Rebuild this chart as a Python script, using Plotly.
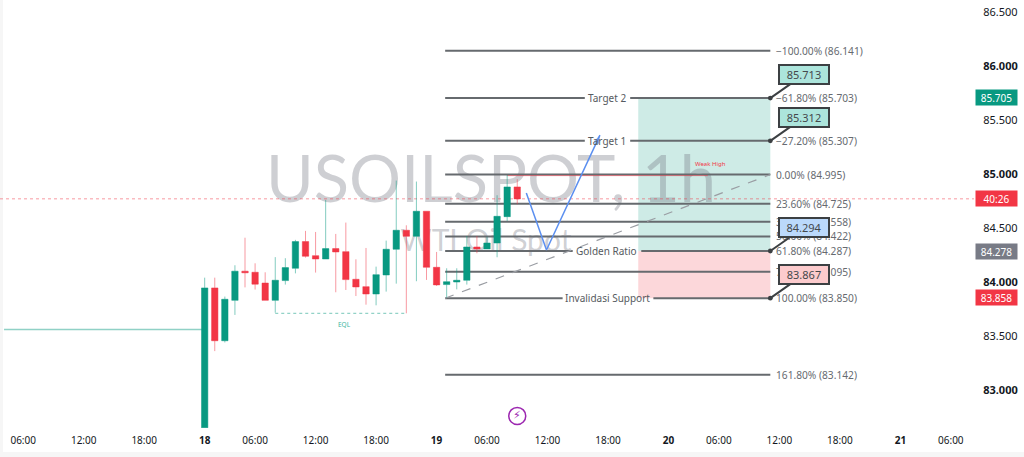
import plotly.graph_objects as go

# candles, one per hour, index 0 is the "18" session open
opens = [82.65, 83.945, 83.456, 83.83, 84.10, 84.09, 83.99, 83.83, 84.013, 84.127, 84.374, 84.244,
         84.213, 84.309, 84.281, 84.025, 83.957, 83.889, 84.065, 84.303, 84.479, 84.423, 84.655,
         84.136, 83.976, 84.0, 84.016, 84.324, 84.306, 84.361, 84.605, 84.88]
highs = [84.04, 84.04, 83.865, 84.155, 84.41, 84.173, 84.09, 84.23, 84.22, 84.39, 84.473, 84.463,
         84.76, 84.445, 84.55, 84.21, 84.315, 84.142, 84.383, 84.939, 84.525, 84.93, 84.655,
         84.278, 84.127, 84.127, 84.426, 84.426, 84.42, 84.803, 84.991, 84.951]
lows = [82.65, 83.36, 83.44, 83.695, 83.95, 83.93, 83.83, 83.716, 83.976, 84.08, 84.226, 84.087,
        84.213, 83.905, 83.926, 83.87, 83.79, 83.784, 83.911, 83.985, 83.71, 84.007, 84.019,
        83.963, 83.855, 83.932, 83.976, 84.266, 84.306, 84.229, 84.565, 84.72]
closes = [83.945, 83.456, 83.84, 84.10, 84.085, 83.98, 83.83, 84.016, 84.133, 84.374, 84.238, 84.213,
          84.309, 84.278, 84.022, 83.954, 83.889, 84.068, 84.303, 84.479, 84.423, 84.655, 84.136,
          83.973, 84.003, 84.016, 84.324, 84.306, 84.361, 84.608, 84.88, 84.769]
bar_index = list(range(len(opens)))

time_ticks = [-18, -12, -6, 0, 5, 11, 17, 23, 28, 34, 40, 46, 51, 57, 63, 69, 74]
time_labels = ["06:00", "12:00", "18:00", "<b>18</b>", "06:00", "12:00", "18:00", "<b>19</b>", "06:00",
               "12:00", "18:00", "<b>20</b>", "06:00", "12:00", "18:00", "<b>21</b>", "06:00"]
price_ticks = [86.5, 86.0, 85.5, 85.0, 84.5, 84.0, 83.5, 83.0]
price_labels = ["86.500", "<b>86.000</b>", "85.500", "<b>85.000</b>", "84.500", "<b>84.000</b>", "83.500", "<b>83.000</b>"]

# fibonacci levels
fib_levels = [86.141, 85.703, 85.307, 84.995, 84.725, 84.558, 84.422, 84.287, 84.095, 83.850, 83.142]
fib_labels = ["−100.00% (86.141)", "−61.80% (85.703)", "−27.20% (85.307)", "0.00% (84.995)", "23.60% (84.725)",
              "38.20% (84.558)", "50.00% (84.422)", "61.80% (84.287)", "78.60% (84.095)", "100.00% (83.850)",
              "161.80% (83.142)"]
fib_start, fib_end = 23.85, 56.1
zone_start = 43.0

# named levels: the text breaks its fib line
level_names = ["Target 2", "Target 1", "Golden Ratio", "Invalidasi Support"]
level_prices = [85.703, 85.307, 84.287, 83.850]
level_gap_start = [37.7, 37.7, 36.5, 35.5]
level_gap_end = [42.2, 42.2, 43.3, 44.5]

callout_texts = ["85.713", "85.312", "84.294", "83.867"]
callout_prices = [85.703, 85.307, 84.287, 83.850]
callout_colors = ["#ace5dc", "#ace5dc", "#bbd9fb", "#fccbcd"]

tag_texts = ["85.705", "40:26", "84.278", "83.858"]
tag_prices = [85.705, 84.77, 84.278, 83.858]
tag_colors = ["#089981", "#f23645", "#787b86", "#f23645"]

path_x = [31.9, 33.9, 39.2]
path_y = [84.824, 84.296, 85.36]
eql_x = [7, 20]
eql_y = [83.71, 83.71]
prev_close_x = [-19.9, 0]
prev_close_y = [83.56, 83.56]
weak_high_x = [30, 49.9]
weak_high_y = [84.985, 84.985]
trend_x = [23.85, 56.1]
trend_y = [83.850, 84.995]

x_range = [-20.3, 76.3]
y_range = [82.648, 86.611]
FONT = "Noto Sans"
GREY = "#666a6e"

fig = go.Figure()

# watermark sits on the lower subplot so candles stay on top
fig.add_trace(go.Scatter(x=[28.4], y=[84.89], mode="text", text=["USOILSPOT, 1h"], hoverinfo="skip",
                         textfont=dict(family="Lato", size=65, color="rgba(120,123,134,0.36)")))
fig.add_trace(go.Scatter(x=[27.9], y=[84.36], mode="text", text=["WTI Oil Spot"], hoverinfo="skip",
                         textfont=dict(family="Lato", size=30, color="rgba(120,123,134,0.36)")))

# price line
fig.add_trace(go.Scatter(x=x_range, y=[84.77, 84.77], mode="lines", line=dict(color="rgba(242,54,69,0.5)", width=1, dash="dot")))

for level in fib_levels:
    xs, ys = [fib_start, fib_end], [level, level]
    if level in level_prices:
        i = level_prices.index(level)
        xs = [fib_start, level_gap_start[i], None, level_gap_end[i], fib_end]
        ys = [level, level, None, level, level]
    fig.add_trace(go.Scatter(x=xs, y=ys, mode="lines", line=dict(color=GREY, width=2)))

fig.add_trace(go.Scatter(x=trend_x, y=trend_y, mode="lines", line=dict(color="#9a9da3", width=1.2, dash="dash")))
fig.add_trace(go.Scatter(x=weak_high_x, y=weak_high_y, mode="lines", line=dict(color="rgba(242,54,69,0.55)", width=1)))
fig.add_trace(go.Scatter(x=eql_x, y=eql_y, mode="lines", line=dict(color="rgba(8,153,129,0.55)", width=1, dash="dot")))
fig.add_trace(go.Scatter(x=prev_close_x, y=prev_close_y, mode="lines", line=dict(color="rgba(8,153,129,0.45)", width=1.5)))
fig.add_trace(go.Scatter(x=path_x, y=path_y, mode="lines+markers", line=dict(color="#5b8ff0", width=1.5),
                         marker=dict(symbol="arrow", size=[0, 0, 9], angleref="previous", color="#5b8ff0", line=dict(width=0))))
fig.add_trace(go.Scatter(x=[31], y=[82.76], mode="markers", hoverinfo="skip",
                         marker=dict(symbol="circle", size=17, color="white", line=dict(color="#9c27b0", width=1.5))))

fig.add_trace(go.Candlestick(
    x=bar_index, open=opens, high=highs, low=lows, close=closes, xaxis="x2", yaxis="y2", whiskerwidth=0,
    increasing=dict(line=dict(color="rgba(8,153,129,0.5)", width=1), fillcolor="#089981"),
    decreasing=dict(line=dict(color="rgba(242,54,69,0.5)", width=1), fillcolor="#f23645"),
))

annotations = []
for level, label in zip(fib_levels, fib_labels):
    annotations.append(dict(x=fib_end, y=level, text=label, showarrow=False, xanchor="left", xshift=4,
                            font=dict(family=FONT, size=10.2, color="#666a70")))
for i, name in enumerate(level_names):
    annotations.append(dict(x=(level_gap_start[i] + level_gap_end[i]) / 2, y=level_prices[i], text=name, showarrow=False,
                            font=dict(family=FONT, size=10, color="#555a60")))
for text, price, color in zip(callout_texts, callout_prices, callout_colors):
    annotations.append(dict(x=fib_end, y=price, text=text, showarrow=True, axref="pixel", ayref="pixel", ax=33.5, ay=-23.5,
                            arrowhead=6, arrowsize=0.6, arrowwidth=2, arrowcolor="#3c4043", bgcolor=color, bordercolor="#3c4043",
                            borderwidth=2, width=46, height=15, borderpad=1, font=dict(family=FONT, size=11, color="#44484c")))
for text, price, color in zip(tag_texts, tag_prices, tag_colors):
    annotations.append(dict(xref="paper", x=1, y=price, text=text, showarrow=False, xanchor="left", xshift=1, bgcolor=color,
                            width=39, height=13, borderpad=1, font=dict(family=FONT, size=10, color="white")))
annotations.append(dict(x=50.2, y=85.09, text="Weak High", showarrow=False, font=dict(family=FONT, size=6, color="#f23645")))
annotations.append(dict(x=13.9, y=83.61, text="EQL", showarrow=False, font=dict(family=FONT, size=6.5, color="#3fb6a2")))
annotations.append(dict(x=31, y=82.76, text="⚡", showarrow=False, font=dict(family="DejaVu Sans", size=11, color="#9c27b0")))

fig.update_layout(
    width=1024, height=457, margin=dict(l=0, r=50, t=0, b=29), plot_bgcolor="white", paper_bgcolor="white",
    showlegend=False, boxgap=0.1, annotations=annotations,
    shapes=[
        dict(type="rect", x0=zone_start, x1=fib_end, y0=level_prices[2], y1=level_prices[0], fillcolor="rgba(8,153,129,0.2)", line_width=0, layer="below"),
        dict(type="rect", x0=zone_start, x1=fib_end, y0=level_prices[3], y1=level_prices[2], fillcolor="rgba(242,54,69,0.2)", line_width=0, layer="below"),
        # faint frame of the screenshot, left and bottom
        dict(type="rect", xref="paper", yref="paper", x0=0, x1=0.003, y0=-0.07, y1=1, fillcolor="#f6f6f6", line_width=0, layer="below"),
        dict(type="rect", xref="paper", yref="paper", x0=0, x1=1.052, y0=-0.07, y1=-0.056, fillcolor="#f6f6f6", line_width=0, layer="below"),
    ],
    xaxis=dict(range=x_range, tickmode="array", tickvals=time_ticks, ticktext=time_labels, showgrid=False, zeroline=False,
               ticks="outside", ticklen=3, tickcolor="white", tickfont=dict(family=FONT, size=10, color="#131722")),
    yaxis=dict(range=y_range, side="right", tickmode="array", tickvals=price_ticks, ticktext=price_labels, showgrid=False, zeroline=False,
               ticks="outside", ticklen=6, tickcolor="white", tickfont=dict(family=FONT, size=11, color="#131722")),
    xaxis2=dict(range=x_range, overlaying="x", visible=False, rangeslider=dict(visible=False)),
    yaxis2=dict(range=y_range, overlaying="y", visible=False),
)

# page body has a default margin, drop it so the chart fills the window
fig.write_html("out.html", config={"displayModeBar": False}, post_script="document.body.style.margin = '0';")
